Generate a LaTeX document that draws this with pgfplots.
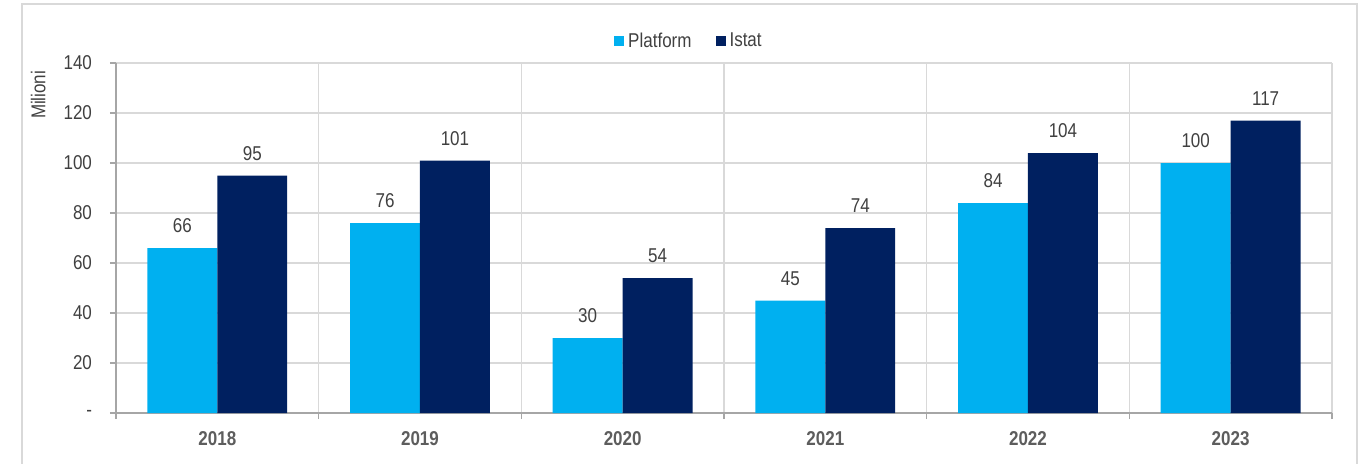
\documentclass[border=0pt]{standalone}
\usepackage{pgfplots}
\pgfplotsset{compat=1.18}
\usepackage{fontspec}
\setmainfont{Liberation Sans}[FakeStretch=0.85]
\definecolor{platform}{HTML}{00B0F0}
\definecolor{istat}{HTML}{002060}
\definecolor{txt}{HTML}{404040}
\definecolor{gridc}{HTML}{D9D9D9}
\definecolor{axc}{HTML}{A6A6A6}
\begin{document}
\begin{tikzpicture}
\useasboundingbox (-58pt,-25pt) rectangle (623pt,206.5pt);
\draw[gridc, line width=0.7pt] (-47pt,-40pt) rectangle (620.5pt,204.5pt);
\begin{axis}[
    at={(0,0)}, anchor=south west,
    width=608pt, height=175pt, scale only axis,
    ybar, bar width=0.345,
    xmin=-0.5, xmax=5.5,
    ymin=0, ymax=140,
    font=\fontsize{10}{12}\selectfont,
    /pgf/number format/assume math mode=true,
    axis x line*=bottom, axis y line*=left,
    axis line style={draw=axc, line width=0.8pt, -},
    tick align=outside,
    xtick={0,...,5},
    xticklabels={2018,2019,2020,2021,2022,2023},
    xticklabel style={font=\fontsize{10}{12}\selectfont\bfseries, text=txt!85, yshift=-2.5pt},
    major x tick style={draw=none},
    minor xtick={-0.5,0.5,...,5.5},
    xminorgrids,
    minor x grid style={draw=gridc, line width=0.6pt},
    minor x tick style={draw=axc, line width=0.8pt},
    minor tick length=3pt,
    ytick={0,20,...,140},
    yticklabels={-,20,40,60,80,100,120,140},
    yticklabel style={text=txt, xshift=-5.5pt},
    ymajorgrids,
    major y grid style={draw=gridc, line width=0.6pt},
    major y tick style={draw=axc, line width=0.8pt},
    major tick length=3pt,
    ylabel={Milioni},
    ylabel style={at={(axis description cs:-0.064,0.909)}, anchor=center, text=txt},
    nodes near coords,
    every node near coord/.append style={text=txt, yshift=4pt},
    legend columns=2,
    legend style={at={(0.472,1.062)}, anchor=center, draw=none, fill=none,
        text=txt, /tikz/every even column/.append style={column sep=10pt}},
    legend image code/.code={\fill[#1] (0pt,-2.5pt) rectangle (5pt,2.5pt);},
]
\addplot[fill=platform, draw=none, bar shift=-0.1725]
    coordinates {(0,66) (1,76) (2,30) (3,45) (4,84) (5,100)};
\addplot[fill=istat, draw=none, bar shift=0.1725]
    coordinates {(0,95) (1,101) (2,54) (3,74) (4,104) (5,117)};
\legend{Platform, Istat}
\end{axis}
\end{tikzpicture}
\end{document}
